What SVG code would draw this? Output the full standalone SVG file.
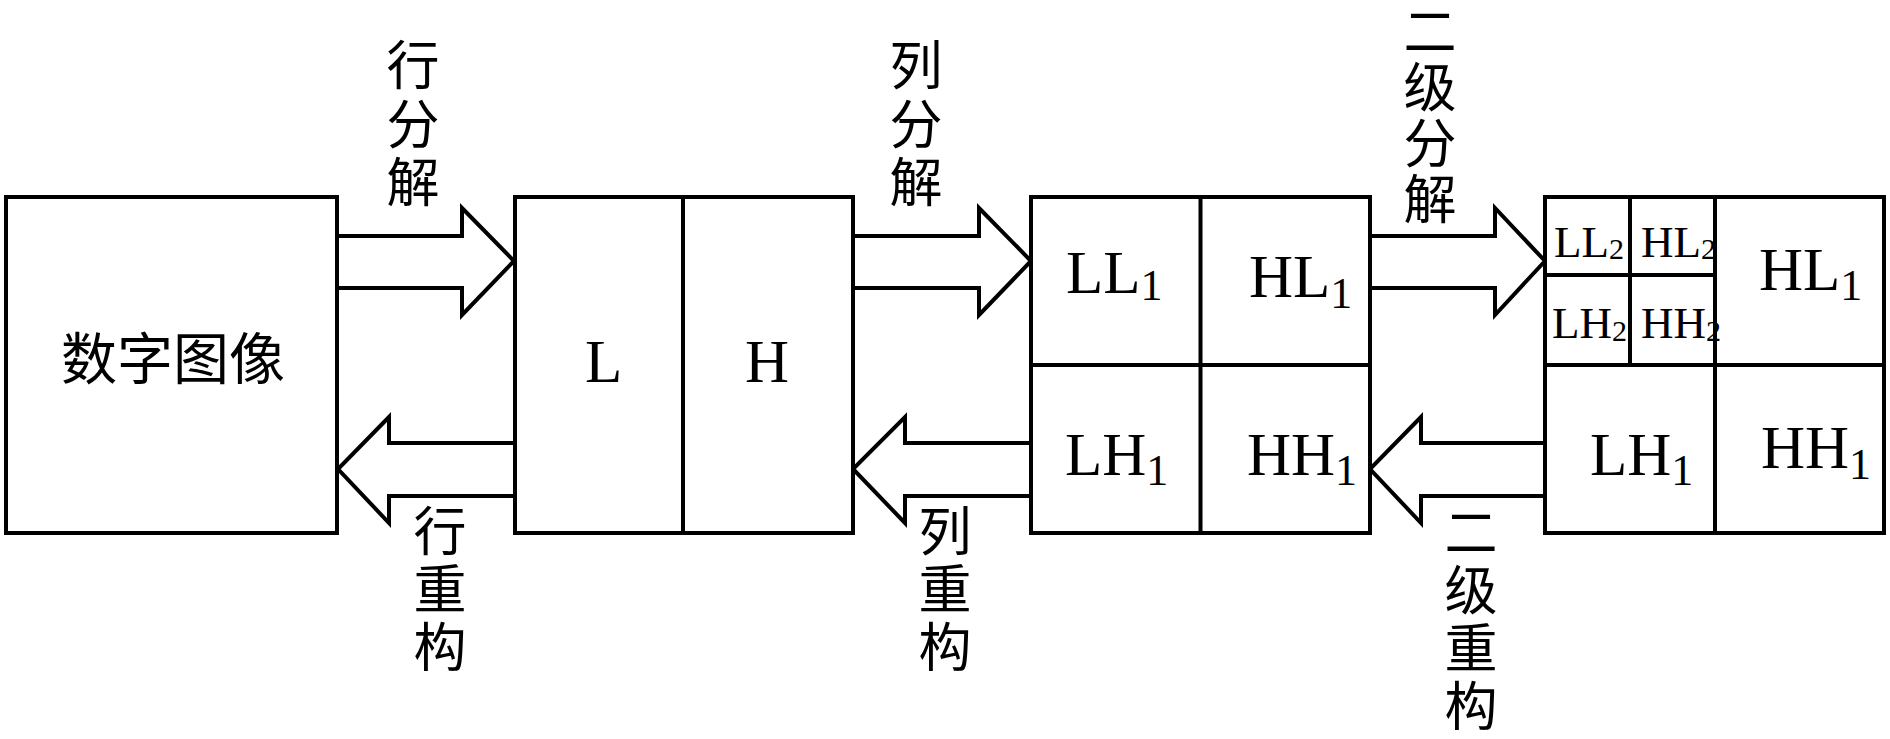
<svg xmlns="http://www.w3.org/2000/svg" width="1890" height="739" viewBox="0 0 1890 739">
<style>
.box{fill:#fff;stroke:#000;stroke-width:4}
.ln{stroke:#000;stroke-width:4;fill:none}
.arr{fill:#fff;stroke:#000;stroke-width:4;stroke-linejoin:miter}
.cjk{font-family:"Noto Sans CJK SC",sans-serif;font-size:56px;fill:#000;text-anchor:middle}
.v{font-family:"Noto Sans CJK SC",sans-serif;font-size:53px;fill:#000;text-anchor:middle}
.lat{font-family:"Liberation Serif",serif;font-size:61px;fill:#000}
.sm{font-family:"Liberation Serif",serif;font-size:45px;fill:#000}
.sub{font-size:44px}
.sub2{font-size:30px}
</style>
<rect width="1890" height="739" fill="#fff"/>
<g id="connectors">
<polygon class="arr" points="337,236 462,236 462,208 514,261 462,315 462,288 337,288"/>
<polygon class="arr" points="515,443 389,443 389,417 338,469 389,523 389,496 515,496"/>
<polygon class="arr" points="853,236 979,236 979,208 1031,261 979,315 979,288 853,288"/>
<polygon class="arr" points="1031,443 905,443 905,417 853,469 905,523 905,496 1031,496"/>
<polygon class="arr" points="1370,236 1495,236 1495,208 1545,261 1495,315 1495,288 1370,288"/>
<polygon class="arr" points="1545,443 1421,443 1421,417 1370,469 1421,523 1421,496 1545,496"/>
<g id="lbl-row-dec">
<text class="v" x="413" y="85">行</text><text class="v" x="413" y="144">分</text><text class="v" x="413" y="202">解</text>
</g>
<g id="lbl-col-dec">
<text class="v" x="916" y="85">列</text><text class="v" x="916" y="144">分</text><text class="v" x="916" y="202">解</text>
</g>
<g id="lbl-l2-dec">
<text class="v" x="1430" y="51">二</text><text class="v" x="1430" y="107">级</text><text class="v" x="1430" y="163">分</text><text class="v" x="1430" y="219">解</text>
</g>
<g id="lbl-row-rec">
<text class="v" x="440" y="551">行</text><text class="v" x="440" y="609">重</text><text class="v" x="440" y="667">构</text>
</g>
<g id="lbl-col-rec">
<text class="v" x="945" y="551">列</text><text class="v" x="945" y="609">重</text><text class="v" x="945" y="667">构</text>
</g>
<g id="lbl-l2-rec">
<text class="v" x="1471" y="552">二</text><text class="v" x="1471" y="610">级</text><text class="v" x="1471" y="668">重</text><text class="v" x="1471" y="726">构</text>
</g>
</g>
<g id="node-image">
<rect class="box" x="6" y="197" width="331" height="336"/>
<text class="cjk" x="173" y="379">数字图像</text>
</g>
<g id="node-LH">
<rect class="box" x="515" y="197" width="338" height="336"/>
<line class="ln" x1="683" y1="197" x2="683" y2="533"/>
<text class="lat" x="585" y="382">L</text>
<text class="lat" x="745" y="382">H</text>
</g>
<g id="node-level1">
<rect class="box" x="1031" y="197" width="339" height="336"/>
<line class="ln" x1="1200.5" y1="197" x2="1200.5" y2="533"/>
<line class="ln" x1="1031" y1="365" x2="1370" y2="365"/>
<text class="lat" x="1066" y="293">LL<tspan class="sub" dy="7">1</tspan></text>
<text class="lat" x="1249" y="297">HL<tspan class="sub" dy="11">1</tspan></text>
<text class="lat" x="1065" y="475">LH<tspan class="sub" dy="10">1</tspan></text>
<text class="lat" x="1247" y="475">HH<tspan class="sub" dy="10">1</tspan></text>
</g>
<g id="node-level2">
<rect class="box" x="1545" y="197" width="339" height="336"/>
<line class="ln" x1="1715" y1="197" x2="1715" y2="533"/>
<line class="ln" x1="1545" y1="365" x2="1884" y2="365"/>
<line class="ln" x1="1630" y1="197" x2="1630" y2="365"/>
<line class="ln" x1="1545" y1="275" x2="1715" y2="275"/>
<text class="sm" x="1554" y="257">LL<tspan class="sub2" dy="2">2</tspan></text>
<text class="sm" x="1641" y="257">HL<tspan class="sub2" dy="2">2</tspan></text>
<text class="sm" x="1552" y="338">LH<tspan class="sub2" dy="3">2</tspan></text>
<text class="sm" x="1641" y="338">HH<tspan class="sub2" dy="3">2</tspan></text>
<text class="lat" x="1759" y="290">HL<tspan class="sub" dy="10">1</tspan></text>
<text class="lat" x="1590" y="475">LH<tspan class="sub" dy="10">1</tspan></text>
<text class="lat" x="1761" y="468">HH<tspan class="sub" dy="11">1</tspan></text>
</g>
</svg>
